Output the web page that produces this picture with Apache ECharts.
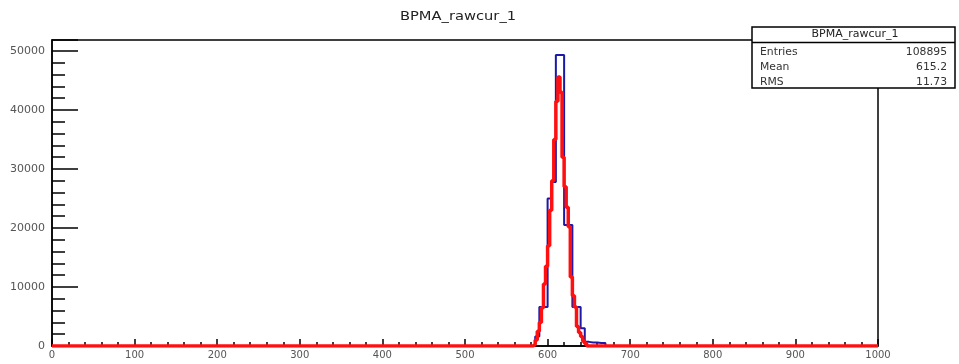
<!DOCTYPE html>
<html><head><meta charset="utf-8">
<script src="https://cdn.jsdelivr.net/npm/echarts@6/dist/echarts.min.js"></script>
<style>html,body{margin:0;padding:0;background:#fff}#c{width:959px;height:364px}</style>
</head><body><div id="c"></div>
<script>
// Blue histogram: left bin edges and counts
const blueEdges = [0, 585, 590, 595, 600, 605, 610, 615, 620, 625, 630, 635, 640, 645, 650, 655, 660, 665, 670, 1000];
const blueCounts = [0, 1600, 6600, 6600, 25000, 27800, 49300, 49300, 20500, 20500, 6600, 6600, 3000, 700, 600, 600, 500, 500, 0, 0];
// Red histogram
const redEdges = [0, 582.5, 585, 587.5, 590, 592.5, 595, 597.5, 600, 602.5, 605, 607.5, 610, 612.5, 615, 617.5, 620, 622.5, 625, 627.5, 630, 632.5, 635, 637.5, 640, 642.5, 645, 647.5, 1000];
const redCounts = [0, 300, 1000, 2500, 4000, 6500, 10500, 13500, 17000, 23000, 28000, 35000, 41500, 45600, 43000, 32000, 27000, 23500, 20200, 11700, 8500, 6600, 3300, 2300, 1600, 800, 400, 0, 0];
const xTicks = [0, 100, 200, 300, 400, 500, 600, 700, 800, 900, 1000];
const yTicks = [0, 10000, 20000, 30000, 40000, 50000];
const titleText = 'BPMA_rawcur_1';
const statNames = ['Entries', 'Mean', 'RMS'];
const statValues = ['108895', '615.2', '11.73'];

const chart = echarts.init(document.getElementById('c'));
const pair = (xs, ys) => xs.map((x, i) => [x, ys[i]]);
const font = '"DejaVu Sans", Verdana, sans-serif';

const graphics = [
  {type: 'text', z: 101, x: 458, y: 17, scaleX: 1.13, style: {text: titleText, fill: '#222', font: '13px ' + font, textAlign: 'center', textVerticalAlign: 'middle'}},
  {type: 'rect', z: 100, shape: {x: 752, y: 27, width: 203, height: 61}, style: {fill: '#fff', stroke: '#000', lineWidth: 1.5}},
  {type: 'line', z: 101, shape: {x1: 752, y1: 42.5, x2: 955, y2: 42.5}, style: {stroke: '#000', lineWidth: 1.5}},
  {type: 'text', z: 101, x: 855, y: 34, scaleX: 1.1, style: {text: titleText, fill: '#222', font: '10px ' + font, textAlign: 'center', textVerticalAlign: 'middle'}}
];
const rowY = [52, 67.5, 82];
statNames.forEach((n, i) => {
  graphics.push({type: 'text', z: 101, x: 760, y: rowY[i], scaleX: 1.08, style: {text: n, fill: '#333', font: '10px ' + font, textAlign: 'left', textVerticalAlign: 'middle'}});
  graphics.push({type: 'text', z: 101, x: 947, y: rowY[i], scaleX: 1.08, style: {text: statValues[i], fill: '#333', font: '10px ' + font, textAlign: 'right', textVerticalAlign: 'middle'}});
});

chart.setOption({
  animation: false,
  grid: {left: 52, right: 81, top: 40, bottom: 18, show: true, borderColor: '#000', borderWidth: 1.5, backgroundColor: 'transparent'},
  xAxis: {
    type: 'value', min: 0, max: 1000, interval: 100,
    axisLine: {lineStyle: {color: '#000', width: 1.5}},
    axisTick: {inside: true, length: 7, lineStyle: {color: '#000', width: 1.5}},
    minorTick: {show: true, splitNumber: 5, length: 4, lineStyle: {color: '#000', width: 1.5}},
    splitLine: {show: false},
    axisLabel: {fontSize: 10, fontFamily: font, color: '#555', margin: 4,
      formatter: v => xTicks.indexOf(v) >= 0 ? String(v) : ''}
  },
  yAxis: {
    type: 'value', min: 0, max: 51860, interval: 10000,
    axisLine: {lineStyle: {color: '#000', width: 1.5}},
    axisTick: {inside: true, length: 26, lineStyle: {color: '#000', width: 1.5}},
    minorTick: {show: true, splitNumber: 5, length: 13, lineStyle: {color: '#000', width: 1.5}},
    splitLine: {show: false},
    axisLabel: {fontSize: 11, fontFamily: font, color: '#555', margin: 7, showMaxLabel: false,
      formatter: v => yTicks.indexOf(v) >= 0 ? String(v) : ''}
  },
  series: [
    {type: 'line', step: 'end', data: pair(blueEdges, blueCounts), symbol: 'none', lineStyle: {color: '#1a1aa8', width: 2}, z: 3},
    {type: 'line', step: 'end', data: pair(redEdges, redCounts), symbol: 'none', lineStyle: {color: '#ff1010', width: 3.5}, z: 4}
  ],
  graphic: graphics
});
</script></body></html>
